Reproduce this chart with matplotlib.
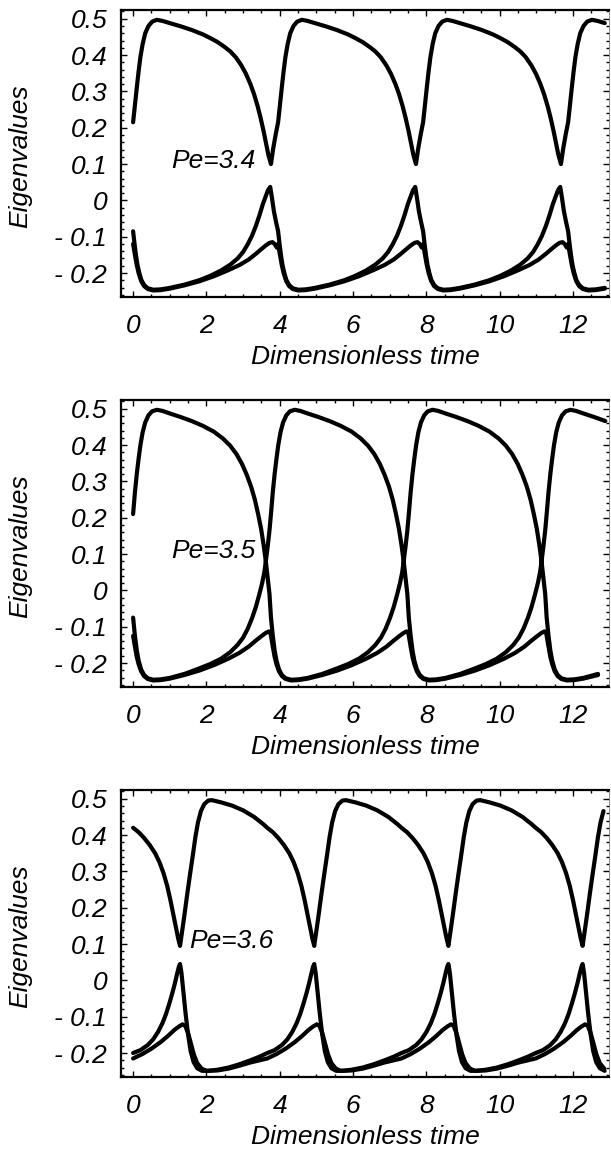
import matplotlib.pyplot as plt
import numpy as np
from matplotlib.ticker import MultipleLocator

# one period of each eigenvalue, read from the plot starting at t = 0,
# then repeated with the period seen in the picture

# Pe = 3.4
p1_period = 3.955
p1_top_t = [0.00, 0.05, 0.10, 0.15, 0.20, 0.26, 0.33, 0.42, 0.52, 0.65, 0.80, 1.00, 1.30, 1.60, 1.90, 2.10, 2.30, 2.50, 2.65,
            2.80, 2.95, 3.08, 3.20, 3.30, 3.40, 3.48, 3.56, 3.63, 3.69, 3.76, 3.82, 3.89]
p1_top_v = [0.215, 0.262, 0.31, 0.355, 0.395, 0.43, 0.46, 0.48, 0.492, 0.497, 0.494, 0.488, 0.479, 0.469, 0.457, 0.447, 0.436,
            0.422, 0.41, 0.394, 0.372, 0.348, 0.32, 0.292, 0.258, 0.226, 0.19, 0.155, 0.125, 0.10, 0.142, 0.182]
p1_mid_t = [0.00, 0.04, 0.08, 0.12, 0.17, 0.22, 0.30, 0.40, 0.55, 0.75, 1.00, 1.40, 1.80, 2.10, 2.40, 2.65, 2.85, 3.00, 3.12,
            3.24, 3.35, 3.45, 3.54, 3.62, 3.68, 3.74, 3.79, 3.84, 3.90]
p1_mid_v = [-0.085, -0.12, -0.152, -0.178, -0.2, -0.218, -0.233, -0.242, -0.246, -0.245, -0.241, -0.232, -0.22, -0.208,
            -0.193, -0.177, -0.16, -0.142, -0.122, -0.098, -0.07, -0.04, -0.01, 0.012, 0.028, 0.037, 0.005, -0.03, -0.06]
p1_low_t = [0.00, 0.05, 0.10, 0.15, 0.22, 0.30, 0.40, 0.55, 0.75, 1.00, 1.40, 1.80, 2.20, 2.60, 2.90, 3.15, 3.35, 3.50, 3.62,
            3.72, 3.80, 3.86, 3.92]
p1_low_v = [-0.12, -0.15, -0.178, -0.2, -0.222, -0.236, -0.244, -0.248, -0.247, -0.243, -0.234, -0.223, -0.209, -0.192,
            -0.178, -0.163, -0.147, -0.134, -0.124, -0.117, -0.115, -0.12, -0.13]

# Pe = 3.5
p2_period = 3.76
p2_top_t = [0.00, 0.05, 0.10, 0.15, 0.20, 0.26, 0.33, 0.42, 0.52, 0.65, 0.80, 1.00, 1.30, 1.60, 1.90, 2.20, 2.45, 2.65, 2.82,
            2.97, 3.10, 3.22, 3.32, 3.41, 3.49, 3.56, 3.62, 3.67, 3.72]
p2_top_v = [0.21, 0.27, 0.32, 0.362, 0.40, 0.435, 0.462, 0.482, 0.493, 0.497, 0.494, 0.487, 0.477, 0.466, 0.453, 0.437, 0.418,
            0.398, 0.375, 0.348, 0.318, 0.285, 0.25, 0.21, 0.17, 0.125, 0.08, 0.12, 0.165]
p2_mid_t = [0.00, 0.05, 0.10, 0.15, 0.22, 0.30, 0.40, 0.55, 0.75, 1.00, 1.40, 1.80, 2.10, 2.40, 2.65, 2.85, 3.00, 3.13, 3.25,
            3.35, 3.44, 3.52, 3.58, 3.62, 3.67, 3.72]
p2_mid_v = [-0.075, -0.125, -0.165, -0.193, -0.218, -0.233, -0.242, -0.246, -0.245, -0.241, -0.23, -0.215, -0.203, -0.188,
            -0.17, -0.15, -0.13, -0.105, -0.075, -0.045, -0.012, 0.02, 0.05, 0.08, 0.035, -0.01]
p2_low_t = [0.00, 0.05, 0.10, 0.15, 0.22, 0.30, 0.40, 0.55, 0.75, 1.00, 1.40, 1.80, 2.20, 2.60, 2.90, 3.15, 3.35, 3.50, 3.62,
            3.70, 3.74]
p2_low_v = [-0.125, -0.155, -0.183, -0.203, -0.223, -0.236, -0.244, -0.248, -0.247, -0.243, -0.233, -0.221, -0.206, -0.188,
            -0.172, -0.155, -0.138, -0.126, -0.117, -0.113, -0.115]

# Pe = 3.6
p3_period = 3.66
p3_top_t = [0.00, 0.15, 0.30, 0.45, 0.60, 0.72, 0.83, 0.93, 1.02, 1.10, 1.17, 1.23, 1.28, 1.33, 1.40, 1.48, 1.55, 1.63, 1.70,
            1.77, 1.85, 1.94, 2.05, 2.15, 2.40, 2.70, 3.00, 3.30, 3.55]
p3_top_v = [0.42, 0.408, 0.392, 0.373, 0.35, 0.325, 0.295, 0.26, 0.22, 0.18, 0.145, 0.115, 0.095, 0.13, 0.18, 0.24, 0.29,
            0.345, 0.395, 0.435, 0.466, 0.485, 0.495, 0.496, 0.49, 0.481, 0.468, 0.45, 0.43]
p3_mid_t = [0.00, 0.20, 0.40, 0.55, 0.68, 0.80, 0.90, 0.99, 1.07, 1.14, 1.20, 1.25, 1.28, 1.32, 1.37, 1.43, 1.50, 1.57, 1.65,
            1.75, 1.88, 2.05, 2.30, 2.60, 2.90, 3.20, 3.45]
p3_mid_v = [-0.20, -0.192, -0.178, -0.162, -0.142, -0.118, -0.092, -0.063, -0.035, -0.008, 0.018, 0.038, 0.045, 0.02, -0.03,
            -0.09, -0.15, -0.195, -0.225, -0.242, -0.249, -0.249, -0.246, -0.24, -0.231, -0.22, -0.21]
p3_low_t = [0.00, 0.25, 0.50, 0.75, 0.95, 1.12, 1.25, 1.35, 1.42, 1.50, 1.58, 1.66, 1.75, 1.87, 2.00, 2.30, 2.60, 2.90, 3.20,
            3.45]
p3_low_v = [-0.215, -0.203, -0.188, -0.17, -0.153, -0.137, -0.127, -0.121, -0.125, -0.145, -0.175, -0.205, -0.228, -0.243,
            -0.249, -0.248, -0.243, -0.235, -0.226, -0.22]

labels = ["Pe=3.4", "Pe=3.5", "Pe=3.6"]
label_pos = [(1.05, 0.108), (1.05, 0.108), (1.52, 0.108)]
yticks = [-0.2, -0.1, 0, 0.1, 0.2, 0.3, 0.4, 0.5]
ytick_labels = ["- 0.2", "- 0.1", "0", "0.1", "0.2", "0.3", "0.4", "0.5"]
xticks = [0, 2, 4, 6, 8, 10, 12]
xtick_labels = ["0", "2", "4", "6", "8", "10", "12"]

t_end = 12.9


def repeat(t, v, period):
    ts, vs = [], []
    k = 0
    while k * period < t_end:
        ts.append(np.array(t) + k * period)
        vs.append(np.array(v))
        k += 1
    ts = np.concatenate(ts)
    vs = np.concatenate(vs)
    keep = ts <= t_end
    return ts[keep], vs[keep]


panels = [
    (p1_period, [(p1_top_t, p1_top_v), (p1_mid_t, p1_mid_v), (p1_low_t, p1_low_v)]),
    (p2_period, [(p2_top_t, p2_top_v), (p2_mid_t, p2_mid_v), (p2_low_t, p2_low_v)]),
    (p3_period, [(p3_top_t, p3_top_v), (p3_mid_t, p3_mid_v), (p3_low_t, p3_low_v)]),
]

plt.rcParams['font.family'] = ['Liberation Sans', 'DejaVu Sans']
plt.rcParams['font.style'] = 'italic'

fig = plt.figure(figsize=(6.11, 11.53), dpi=100)
W, H = 611, 1153
tops = [10, 400, 790]
ax_h = 287
fs = 19

for i, (period, curves) in enumerate(panels):
    ax = fig.add_axes([121 / W, 1 - (tops[i] + ax_h) / H, 488 / W, ax_h / H])
    for t, v in curves:
        tt, vv = repeat(t, v, period)
        ax.plot(tt, vv, color='black', lw=3.0, solid_capstyle='round', solid_joinstyle='round')

    ax.set_xlim(-0.33, 12.98)
    ax.set_ylim(-0.266, 0.524)
    ax.set_xticks(xticks)
    ax.set_xticklabels(xtick_labels)
    ax.set_yticks(yticks)
    ax.set_yticklabels(ytick_labels)
    ax.xaxis.set_minor_locator(MultipleLocator(0.5))
    ax.yaxis.set_minor_locator(MultipleLocator(0.02))
    ax.tick_params(which='both', direction='in', top=True, right=True, labelsize=fs, width=1.0)
    ax.tick_params(which='major', length=4.5)
    ax.tick_params(which='minor', length=2.5)
    ax.tick_params(axis='y', pad=10)
    ax.tick_params(axis='x', pad=12)
    for s in ['left', 'bottom', 'top']:
        ax.spines[s].set_linewidth(1.6)
    ax.spines['right'].set_linewidth(0.5)
    ax.spines['right'].set_color('0.4')

    ax.set_xlabel("Dimensionless time", fontsize=fs)
    ax.xaxis.set_label_coords(0.5, -0.168)
    ax.set_ylabel("Eigenvalues", fontsize=fs)
    ax.yaxis.set_label_coords(-0.207, 0.49)
    ax.yaxis.label.set_va('center')
    ax.text(label_pos[i][0], label_pos[i][1], labels[i], fontsize=fs, ha='left', va='center')

fig.savefig("out.png", dpi=100)
